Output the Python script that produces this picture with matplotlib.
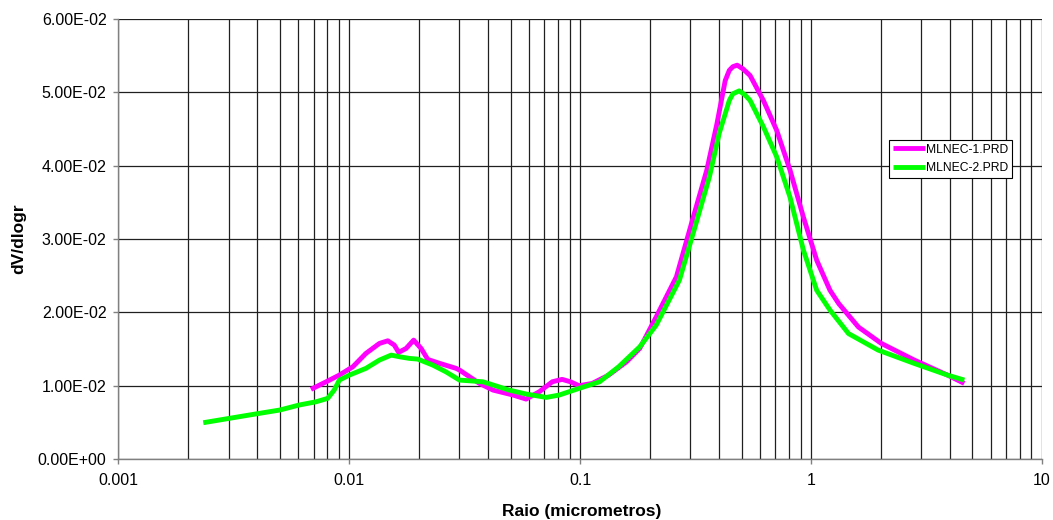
import matplotlib
matplotlib.use("Agg")
import matplotlib.pyplot as plt
from matplotlib.ticker import FixedLocator, FuncFormatter, LogLocator, NullFormatter

plt.rcParams['font.family'] = ['Liberation Sans', 'DejaVu Sans']

# MLNEC-1.PRD
x1 = [0.00682, 0.00794, 0.00905, 0.01036, 0.0118, 0.0135, 0.01468, 0.01566, 0.01636,
      0.01762, 0.01899, 0.02046, 0.02186, 0.02462, 0.0290, 0.0300, 0.0366, 0.0419, 0.0512,
      0.0583, 0.0665, 0.0757, 0.0835, 0.0907, 0.0989, 0.1128, 0.1328, 0.1588, 0.1811,
      0.2135, 0.261, 0.309, 0.3535, 0.391, 0.4247, 0.4425, 0.4586, 0.4785, 0.5067, 0.544,
      0.6215, 0.710, 0.8105, 0.926, 1.058, 1.208, 1.317, 1.603, 2.015, 2.8, 3.9, 4.61]
y1 = [0.0095, 0.01053, 0.01144, 0.01258, 0.0144, 0.01576, 0.01612, 0.01553, 0.01454,
      0.01508, 0.01621, 0.01508, 0.01358, 0.01304, 0.01236, 0.01213, 0.01031, 0.0094, 0.00872,
      0.00817, 0.00917, 0.01053, 0.01086, 0.01053, 0.00999, 0.01031, 0.01144, 0.01326, 0.01508,
      0.01939, 0.02484, 0.0330, 0.0394, 0.0457, 0.0516, 0.0530, 0.0535, 0.0537, 0.0532, 0.0523,
      0.0489, 0.0448, 0.0394, 0.0330, 0.0271, 0.0230, 0.0212, 0.0180, 0.01576, 0.01349,
      0.01144, 0.01031]

# MLNEC-2.PRD
x2 = [0.00233, 0.00369, 0.0050, 0.00606, 0.00717, 0.00806, 0.0086, 0.00905, 0.01, 0.0118,
      0.0135, 0.01518, 0.0165, 0.01818, 0.0198, 0.0230, 0.0262, 0.0300, 0.0379, 0.0492,
      0.0583, 0.0713, 0.0811, 0.0989, 0.1213, 0.1468, 0.1811, 0.2135, 0.2691, 0.3173, 0.363,
      0.400, 0.4425, 0.4586, 0.4885, 0.515, 0.544, 0.6215, 0.710, 0.8105, 0.926, 1.058,
      1.208, 1.453, 1.952, 2.8, 3.9, 4.61]
y2 = [0.00495, 0.0060, 0.00668, 0.00736, 0.0078, 0.00827, 0.0094, 0.01076, 0.01144, 0.01236,
      0.01349, 0.01417, 0.01394, 0.01372, 0.01362, 0.0128, 0.01189, 0.01076, 0.01053, 0.0094,
      0.00886, 0.0084, 0.00872, 0.00963, 0.01053, 0.01258, 0.0153, 0.01826, 0.0244, 0.0321, 0.0385,
      0.0444, 0.0489, 0.0498, 0.0502, 0.0497, 0.0489, 0.0453, 0.0412, 0.0357, 0.0285, 0.0230,
      0.0203, 0.0171, 0.01485, 0.01303, 0.01144, 0.01076]

series_names = ["MLNEC-1.PRD", "MLNEC-2.PRD"]
y_ticks = [0.0, 0.01, 0.02, 0.03, 0.04, 0.05, 0.06]
x_ticks = [0.001, 0.01, 0.1, 1, 10]
x_tick_labels = ["0.001", "0.01", "0.1", "1", "10"]

fig = plt.figure(figsize=(10.53, 5.20), dpi=100)
ax = fig.add_axes([0.1125, 0.1173, 0.877, 0.8462])

ax.plot(x1, y1, color="#FF00FF", lw=3.5, label=series_names[0], solid_capstyle='butt',
        solid_joinstyle='round', zorder=3)
ax.plot(x2, y2, color="#00FF00", lw=3.5, label=series_names[1], solid_capstyle='butt',
        solid_joinstyle='round', zorder=3)

ax.set_xscale('log')
ax.set_xlim(0.001, 10)
ax.set_ylim(0, 0.06)
ax.xaxis.set_major_locator(FixedLocator(x_ticks))
ax.set_xticklabels(x_tick_labels)
ax.xaxis.set_minor_locator(LogLocator(base=10, subs=range(2, 10)))
ax.xaxis.set_minor_formatter(NullFormatter())
ax.yaxis.set_major_locator(FixedLocator(y_ticks))
ax.yaxis.set_major_formatter(FuncFormatter(lambda v, p: "{:.2E}".format(v)))

ax.grid(which='major', axis='both', color='#202020', lw=0.9)
ax.grid(which='minor', axis='x', color='#202020', lw=0.9)
ax.set_axisbelow(True)

for s in ['top', 'right']:
    ax.spines[s].set_visible(False)
for s in ['left', 'bottom']:
    ax.spines[s].set_color('#808080')
    ax.spines[s].set_linewidth(1.0)

ax.tick_params(axis='both', which='major', labelsize=11.5, length=3.6, color='#808080', width=1)
ax.tick_params(axis='x', which='major', pad=6.5)
ax.tick_params(axis='y', which='major', pad=5)
ax.tick_params(axis='x', which='minor', length=0)

ax.set_xlabel("Raio (micrometros)", fontsize=12.5, fontweight='bold', va='center')
ax.xaxis.set_label_coords(0.5016, -0.1198)
ax.set_ylabel("dV/dlogr", fontsize=12.5, fontweight='bold', va='center')
ax.yaxis.set_label_coords(-0.1077, 0.501)

leg = ax.legend(loc='upper left', bbox_to_anchor=(0.8343, 0.725), fontsize=8.7, frameon=True,
                fancybox=False, edgecolor='black', framealpha=1, handlelength=2.65,
                handletextpad=0.15, borderpad=0.3, labelspacing=0.55, borderaxespad=0)
leg.get_frame().set_linewidth(0.8)

fig.savefig("out.png", dpi=100)
